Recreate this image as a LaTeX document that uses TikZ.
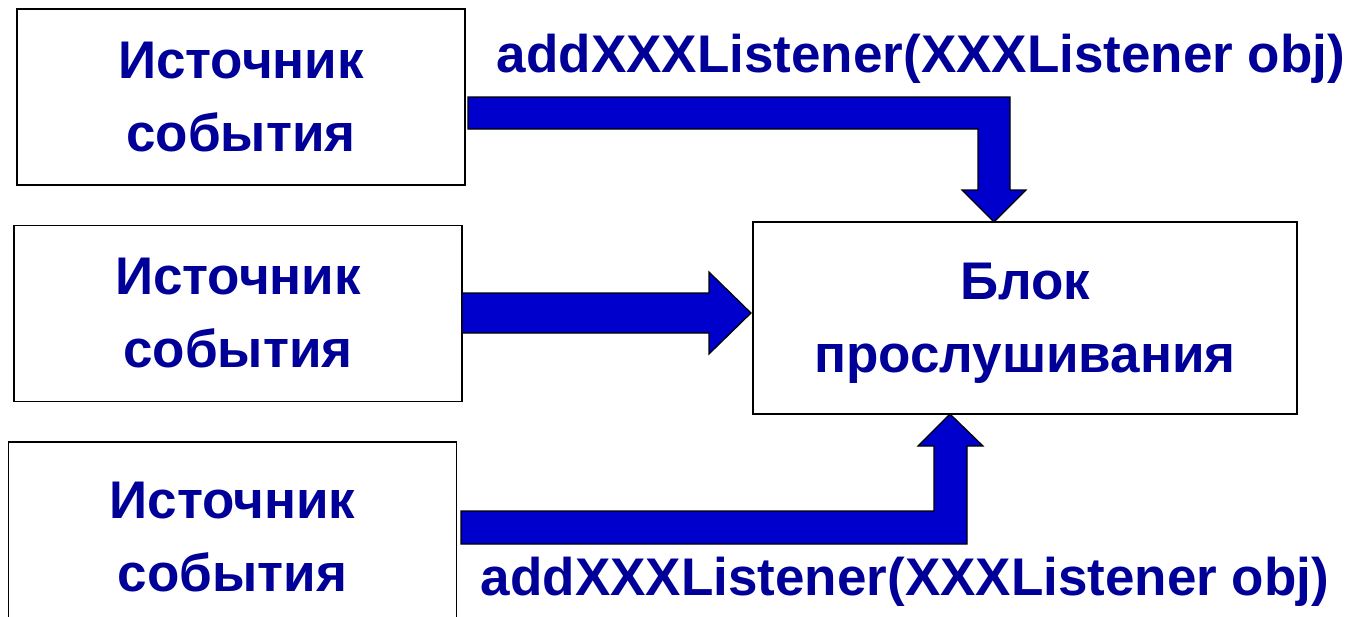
\documentclass[tikz,border=0pt]{standalone}
\usepackage{fontspec}
\setmainfont{Liberation Sans}
\definecolor{textnavy}{HTML}{000099}
\definecolor{arrowblue}{HTML}{0000CC}
\begin{document}
\begin{tikzpicture}[x=1pt,y=-1pt,
  box/.style={draw=black, line width=1.6pt, fill=white, inner sep=0pt,
    align=center, text=textnavy,
    font=\fontsize{53}{73}\selectfont\bfseries},
  srcbox/.style={box, minimum width=448pt, minimum height=176pt},
  blockarrow/.style={fill=arrowblue, draw=black, line width=1.2pt, line join=miter},
  methodlabel/.style={inner sep=0pt, text=textnavy,
    font=\fontsize{53}{60}\selectfont\bfseries}]
  \useasboundingbox (0,0) rectangle (1362,616);
  \clip (0,0) rectangle (1362,616);

  % event sources
  \node[srcbox] (src1) at (241,97) {Источник\\события};
  \node[srcbox] (src2) at (238,313.5) {Источник\\события};
  \node[srcbox, minimum height=190pt] (src3) at (232.5,537) {Источник\\события};

  % listener block
  \node[box, minimum width=544pt, minimum height=192pt] (lst) at (1025,318) {};
  \node[inner sep=0pt, align=center, text=textnavy,
    font=\fontsize{53}{73}\selectfont\bfseries] (lsttext) at (1025,323) {Блок\\прослушивания};

  % registration labels
  \node[methodlabel, anchor=base] (lbl1) at (921,72) {addXXXListener(XXXListener obj)};
  \node[methodlabel, anchor=base] (lbl2) at (905,595) {addXXXListener(XXXListener obj)};

  % block arrows from sources to the listener
  \draw[blockarrow] (468,97) -- (1010,97) -- (1010,190) -- (1026,190) -- (994,222)
    -- (962,190) -- (978,190) -- (978,129) -- (468,129) -- cycle;
  \draw[blockarrow] (462,293) -- (709,293) -- (709,272) -- (751,313)
    -- (709,354) -- (709,333) -- (462,333) -- cycle;
  \draw[blockarrow] (461,544) -- (967,544) -- (967,446) -- (983,446) -- (950,414)
    -- (918,446) -- (934,446) -- (934,511) -- (461,511) -- cycle;
\end{tikzpicture}
\end{document}
